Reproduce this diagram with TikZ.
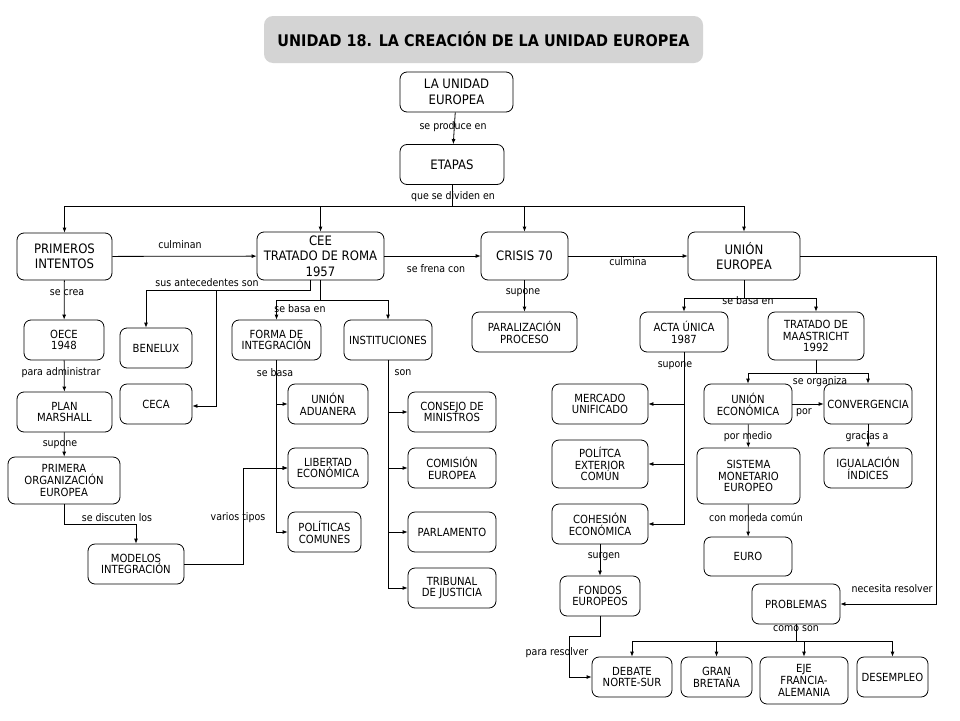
\documentclass[tikz,border=0pt]{standalone}
\usepackage{fontspec}
\setmainfont{DejaVu Sans Condensed}
\usetikzlibrary{arrows.meta,calc}
\begin{document}
\begin{tikzpicture}[x=1pt,y=-1pt,
  box/.style={draw,rounded corners=7pt,line width=0.8pt,inner sep=0pt,align=center,font=\fontsize{11.2}{11.8}\selectfont},
  bigbox/.style={box,font=\fontsize{13}{15.5}\selectfont},
  lbl/.style={inner sep=0pt,font=\fontsize{10.5}{12}\selectfont},
  arr/.style={line width=0.8pt,-{Latex[length=5pt,width=4pt]}},
  ln/.style={line width=0.8pt}]
\useasboundingbox[fill=white] (0,0) rectangle (960,720);
% title
\node[fill=black!17,rounded corners=9pt,minimum width=439,minimum height=47,inner sep=0pt,font=\bfseries\fontsize{16}{18}\selectfont] (title) at (483.5,39.5) {UNIDAD 18. LA CREACIÓN DE LA UNIDAD EUROPEA};
% nodes
\node[bigbox,minimum width=113,minimum height=40] (lue) at (456.5,92) {LA UNIDAD\\EUROPEA};
\node[bigbox,minimum width=104,minimum height=40] (etapas) at (452,164.5) {ETAPAS};
\node[bigbox,minimum width=95,minimum height=47] (prim) at (64.5,256.5) {PRIMEROS\\INTENTOS};
\node[bigbox,minimum width=127,minimum height=48] (cee) at (320.5,256) {CEE\\TRATADO DE ROMA\\1957};
\node[bigbox,minimum width=87,minimum height=48] (crisis) at (524.5,256) {CRISIS 70};
\node[bigbox,minimum width=112,minimum height=48] (ue) at (744,256) {UNIÓN\\EUROPEA};
\node[box,minimum width=80,minimum height=40] (oece) at (64,340) {OECE\\1948};
\node[box,minimum width=95,minimum height=40] (plan) at (64.5,412) {PLAN\\MARSHALL};
\node[box,minimum width=112,minimum height=47] (porg) at (64,480.5) {PRIMERA\\ORGANIZACIÓN\\EUROPEA};
\node[box,minimum width=96,minimum height=40] (modelos) at (136,564) {MODELOS\\INTEGRACIÓN};
\node[box,minimum width=72,minimum height=40] (benelux) at (156,348) {BENELUX};
\node[box,minimum width=72,minimum height=40] (ceca) at (156,404) {CECA};
\node[box,minimum width=89,minimum height=40] (forma) at (276.5,340) {FORMA DE\\INTEGRACIÓN};
\node[box,minimum width=88,minimum height=40] (inst) at (388,340) {INSTITUCIONES};
\node[box,minimum width=80,minimum height=40] (ua) at (328,404) {UNIÓN\\ADUANERA};
\node[box,minimum width=80,minimum height=40] (lib) at (328,468) {LIBERTAD\\ECONÓMICA};
\node[box,minimum width=73,minimum height=40] (pol) at (324.5,532) {POLÍTICAS\\COMUNES};
\node[box,minimum width=88,minimum height=40] (consejo) at (452,412) {CONSEJO DE\\MINISTROS};
\node[box,minimum width=88,minimum height=40] (comision) at (452,468) {COMISIÓN\\EUROPEA};
\node[box,minimum width=88,minimum height=40] (parl) at (452,532) {PARLAMENTO};
\node[box,minimum width=88,minimum height=40] (trib) at (452,588) {TRIBUNAL\\DE JUSTICIA};
\node[box,minimum width=105,minimum height=40] (paral) at (524.5,332) {PARALIZACIÓN\\PROCESO};
\node[box,minimum width=88,minimum height=40] (acta) at (684,332) {ACTA ÚNICA\\1987};
\node[box,minimum width=96,minimum height=48] (maas) at (816,336) {TRATADO DE\\MAASTRICHT\\1992};
\node[box,minimum width=96,minimum height=40] (mercado) at (600,404) {MERCADO\\UNIFICADO};
\node[box,minimum width=96,minimum height=48] (polext) at (600,464) {POLÍTCA\\EXTERIOR\\COMÚN};
\node[box,minimum width=96,minimum height=40] (cohesion) at (600,524) {COHESIÓN\\ECONÓMICA};
\node[box,minimum width=80,minimum height=40] (fondos) at (600,596) {FONDOS\\EUROPEOS};
\node[box,minimum width=88,minimum height=40] (ueco) at (748,404) {UNIÓN\\ECONÓMICA};
\node[box,minimum width=88,minimum height=40] (conv) at (868,404) {CONVERGENCIA};
\node[box,minimum width=103,minimum height=56] (sme) at (748.5,476) {SISTEMA\\MONETARIO\\EUROPEO};
\node[box,minimum width=88,minimum height=40] (igual) at (868,468) {IGUALACIÓN\\ÍNDICES};
\node[box,minimum width=88,minimum height=39] (euro) at (748,556.5) {EURO};
\node[box,minimum width=88,minimum height=40] (problemas) at (796,604) {PROBLEMAS};
\node[box,minimum width=80,minimum height=40] (debate) at (632,677) {DEBATE\\NORTE-SUR};
\node[box,minimum width=71,minimum height=40] (gran) at (716.5,677) {GRAN\\BRETAÑA};
\node[box,minimum width=88,minimum height=47] (eje) at (804,680.5) {EJE\\FRANCIA-\\ALEMANIA};
\node[box,minimum width=71,minimum height=40] (desempleo) at (892.5,677) {DESEMPLEO};
% helper coordinates
\coordinate (b1) at (452,206);
\coordinate (c2) at (310,290);
\coordinate (c3) at (216,290);
% connectors
\draw[arr] (lue) -- (etapas);
\draw[arr] (etapas.south) -- (b1) -| (prim.north);
\draw[arr] (b1) -| (cee.north);
\draw[arr] (b1) -| (crisis.north);
\draw[arr] (b1) -| (ue.north);
\draw[arr] (prim) -- (cee);
\draw[arr] (cee) -- (crisis);
\draw[arr] (crisis) -- (ue);
\draw[arr] (ue.east) -- ++(136,0) |- (problemas.east);
\draw[arr] (prim) -- (oece);
\draw[arr] (oece) -- (plan);
\draw[arr] (plan) -- (porg);
\draw[arr] (porg.south) -- ++(0,20) -| (modelos.north);
\draw[arr] (modelos.east) -- ++(59,0) |- (lib.west);
\draw[arr] (cee.south -| c2) -- (c2) -| ($(benelux.north)+(-10,0)$);
\draw[arr] (c3) |- ($(ceca.east)+(0,2)$);
\draw[arr] (cee.south) -- ++(0,20) -| (forma.north);
\draw[arr] (cee.south) -- ++(0,20) -| (inst.north);
\draw[arr] (forma.south) |- (ua.west);
\draw[arr] (forma.south) |- (lib.west);
\draw[arr] (forma.south) |- (pol.west);
\draw[arr] (inst.south) |- (consejo.west);
\draw[arr] (inst.south) |- (comision.west);
\draw[arr] (inst.south) |- (parl.west);
\draw[arr] (inst.south) |- (trib.west);
\draw[arr] (crisis) -- (paral);
\draw[arr] (ue.south) -- ++(0,18) -| (acta.north);
\draw[arr] (ue.south) -- ++(0,18) -| (maas.north);
\draw[arr] (acta.south) |- (mercado.east);
\draw[arr] (acta.south) |- (polext.east);
\draw[arr] (acta.south) |- (cohesion.east);
\draw[arr] (cohesion) -- (fondos);
\draw[arr] (fondos.south) -- ++(0,20) -- ++(-31,0) |- (debate.west);
\draw[arr] (maas.south) -- ++(0,13) -| (ueco.north);
\draw[arr] (maas.south) -- ++(0,13) -| (conv.north);
\draw[arr] (ueco) -- (conv);
\draw[arr] (ueco) -- (sme);
\draw[arr] (conv) -- (igual);
\draw[arr] (sme) -- (euro);
\draw[arr] (problemas.south) -- ++(0,17) -| (debate.north);
\draw[arr] (problemas.south) -- ++(0,17) -| (gran.north);
\draw[arr] (problemas.south) -- ++(0,17) -| (eje.north);
\draw[arr] (problemas.south) -- ++(0,17) -| (desempleo.north);
% labels
\node[lbl] (l1) at (453,127) {se produce en};
\node[lbl] (l2) at (453,197) {que se dividen en};
\node[lbl] (l3) at (180,245) {culminan};
\node[lbl] (l4) at (436,269) {se frena con};
\node[lbl] (l5) at (628,262) {culmina};
\node[lbl] (l6) at (67,293) {se crea};
\node[lbl] (l7) at (61,373) {para administrar};
\node[lbl] (l8) at (60,445) {supone};
\node[lbl] (l9) at (117,518) {se discuten los};
\node[lbl] (l10) at (238,518) {varios tipos};
\node[lbl] (l11) at (207,283) {sus antecedentes son};
\node[lbl] (l12) at (300,309) {se basa en};
\node[lbl] (l13) at (275,373) {se basa};
\node[lbl] (l14) at (403,373) {son};
\node[lbl] (l15) at (523,293) {supone};
\node[lbl] (l16) at (748,301) {se basa en};
\node[lbl] (l17) at (675,366) {supone};
\node[lbl] (l18) at (820,382) {se organiza};
\node[lbl] (l19) at (804,413) {por};
\node[lbl] (l20) at (748,437) {por medio};
\node[lbl] (l21) at (867,437) {gracias a};
\node[lbl] (l22) at (756,517) {con moneda común};
\node[lbl] (l23) at (604,557) {surgen};
\node[lbl] (l24) at (557,653) {para resolver};
\node[lbl] (l25) at (892,589) {necesita resolver};
\node[lbl] (l26) at (796,629) {como son};
\end{tikzpicture}
\end{document}
